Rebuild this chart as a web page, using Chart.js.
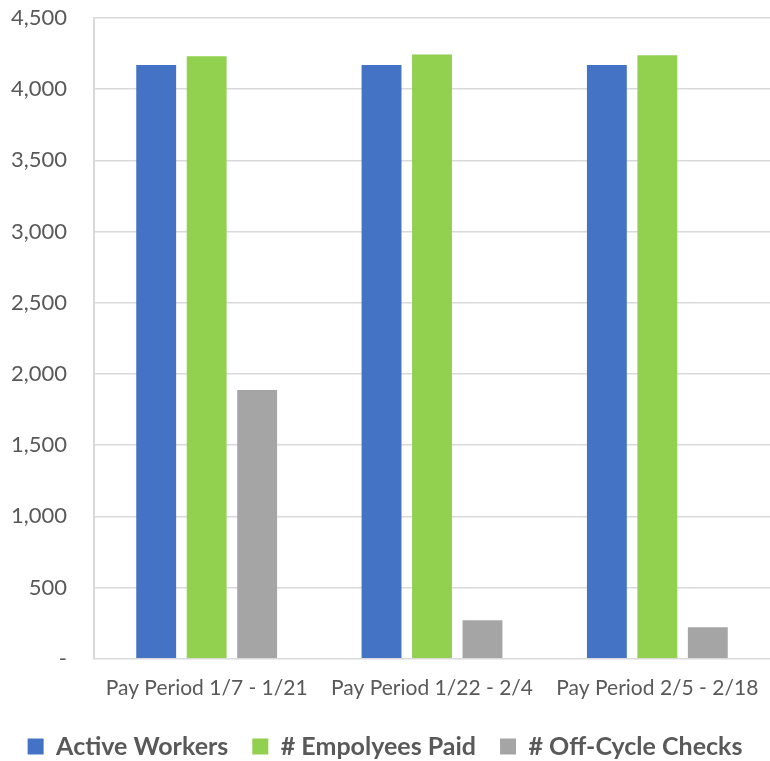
<!DOCTYPE html>
<html>
<head>
<meta charset="utf-8">
<script src="https://cdn.jsdelivr.net/npm/chart.js@4.4.1/dist/chart.umd.min.js"></script>
<style>
  html, body { margin: 0; padding: 0; background: #fff; }
  #wrap { width: 770px; height: 761px; position: relative; }
</style>
</head>
<body>
<div id="wrap"><canvas id="payChart"></canvas></div>
<script>
const categories = ['Pay Period 1/7 - 1/21', 'Pay Period 1/22 - 2/4', 'Pay Period 2/5 - 2/18'];
const activeWorkers = [4170, 4170, 4170];
const employeesPaid = [4232, 4243, 4238];
const offCycleChecks = [1887, 270, 222];

const textColor = '#595959';
const gridColor = '#d9d9d9';
const fontFamily = 'Lato, "Open Sans", sans-serif';

document.addEventListener('DOMContentLoaded', function () {
    const ctx = document.getElementById('payChart');

    new Chart(ctx, {
        type: 'bar',
        data: {
            labels: categories,
            datasets: [{
                label: 'Active Workers',
                data: activeWorkers,
                backgroundColor: '#4472C4'
            }, {
                label: '# Empolyees Paid',
                data: employeesPaid,
                backgroundColor: '#92D050'
            }, {
                label: '# Off-Cycle Checks',
                data: offCycleChecks,
                backgroundColor: '#A5A5A5'
            }]
        },
        options: {
            responsive: true,
            maintainAspectRatio: false,
            animation: false,
            layout: { padding: { top: 18, right: 0, left: 0, bottom: -8 } },
            datasets: {
                bar: { categoryPercentage: 0.672, barPercentage: 0.79 }
            },
            plugins: {
                legend: {
                    position: 'bottom',
                    labels: {
                        color: textColor,
                        font: { family: fontFamily, size: 25, weight: 'bold' },
                        boxWidth: 16,
                        boxHeight: 16,
                        padding: 24
                    }
                },
                tooltip: { enabled: false }
            },
            scales: {
                x: {
                    grid: { display: false },
                    border: { display: false },
                    ticks: {
                        color: textColor,
                        font: { family: fontFamily, size: 21 },
                        padding: 9,
                        maxRotation: 0
                    }
                },
                y: {
                    min: 0,
                    max: 4500,
                    afterFit: function (scale) {
                        scale.width = 94;
                        scale.paddingTop = 0;
                        scale.paddingBottom = 0;
                    },
                    grid: { color: gridColor, lineWidth: 1.5, drawTicks: false },
                    border: { color: gridColor, width: 2 },
                    ticks: {
                        stepSize: 500,
                        color: textColor,
                        font: { family: fontFamily, size: 22 },
                        padding: 27,
                        callback: function (v) {
                            return v === 0 ? '-' : v.toLocaleString('en-US');
                        }
                    }
                }
            }
        }
    });
});
</script>
</body>
</html>
